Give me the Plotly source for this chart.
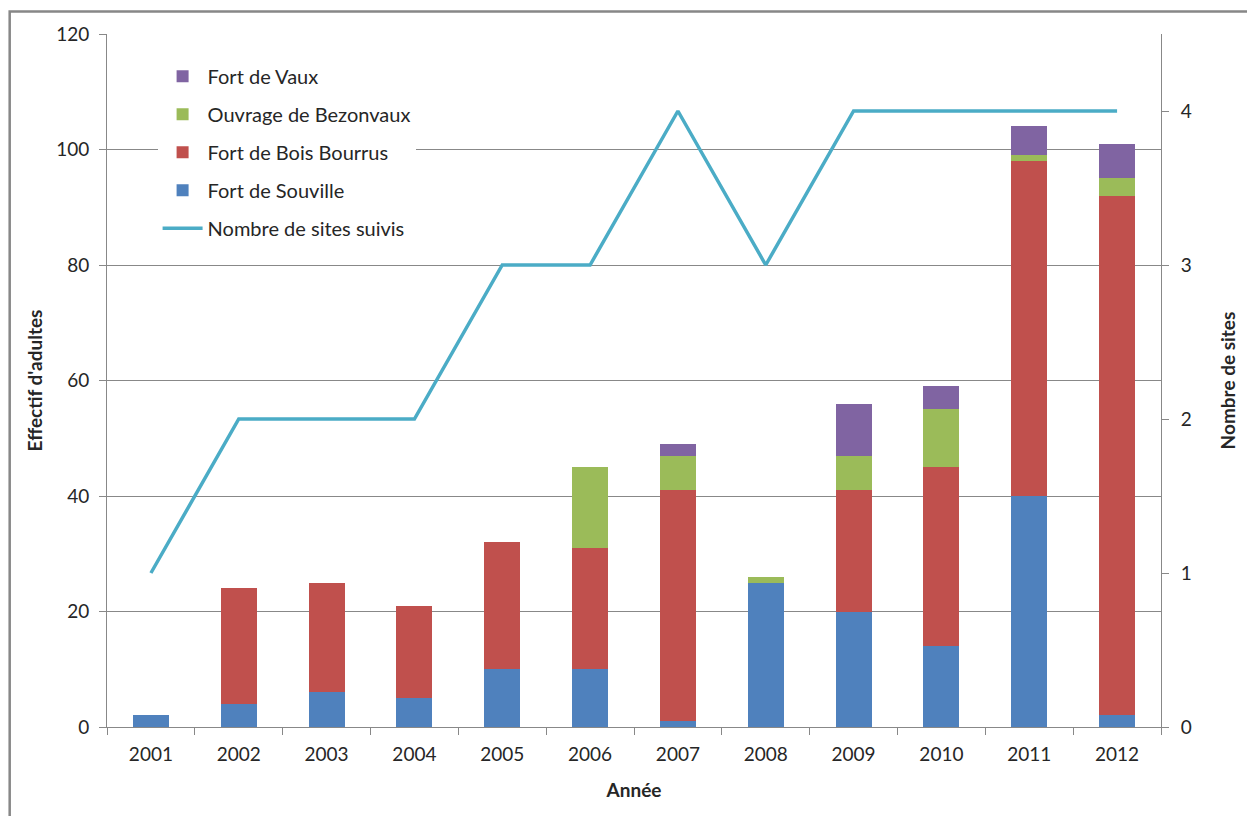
import plotly.graph_objects as go

years = ["2001", "2002", "2003", "2004", "2005", "2006", "2007", "2008", "2009", "2010", "2011", "2012"]
souville = [2, 4, 6, 5, 10, 10, 1, 25, 20, 14, 40, 2]
bois_bourrus = [0, 20, 19, 16, 22, 21, 40, 0, 21, 31, 58, 90]
bezonvaux = [0, 0, 0, 0, 0, 14, 6, 1, 6, 10, 1, 3]
vaux = [0, 0, 0, 0, 0, 0, 2, 0, 9, 4, 5, 6]
nb_sites = [1, 2, 2, 2, 3, 3, 4, 3, 4, 4, 4, 4]

FONT = "Lato"
GRID = "#888888"

fig = go.Figure()
series = [
    ("Fort de Souville", souville, "#4F81BD", 4),
    ("Fort de Bois Bourrus", bois_bourrus, "#C0504D", 3),
    ("Ouvrage de Bezonvaux", bezonvaux, "#9BBB59", 2),
    ("Fort de Vaux", vaux, "#8064A2", 1),
]
for name, vals, col, rank in series:
    fig.add_trace(go.Bar(x=years, y=vals, name=name, marker_color=col,
                         marker_line_width=0, legendrank=rank, legendgroup=name))
fig.add_trace(go.Scatter(x=years, y=nb_sites, name="Nombre de sites suivis", mode="lines",
                         line=dict(color="#4BACC6", width=3.5), yaxis="y2",
                         legendrank=5, legendgroup="sites"))

fig.update_layout(
    width=1247, height=816,
    margin=dict(l=107, r=84, t=34, b=89),
    paper_bgcolor="white", plot_bgcolor="white",
    barmode="stack", bargap=0.59,
    font=dict(family=FONT, size=19, color="#262626"),
    showlegend=True,
    legend=dict(x=0.048, y=0.967, xanchor="left", yanchor="top", bgcolor="white",
                font=dict(size=20), tracegroupgap=9, traceorder="grouped",
                itemwidth=40),
    xaxis=dict(type="category", showline=True, linecolor=GRID, linewidth=1,
               ticks="outside", tickson="boundaries", ticklen=7, tickcolor=GRID,
               showgrid=False, ticklabelstandoff=10,
               title=dict(text="<b>Année</b>", font=dict(size=19), standoff=19)),
    yaxis=dict(range=[0, 120], dtick=20, showline=True, linecolor=GRID, linewidth=1,
               ticks="outside", ticklen=7, tickcolor=GRID, showgrid=True,
               gridcolor=GRID, gridwidth=1, zeroline=False, ticklabelstandoff=6,
               title=dict(text="<b>Effectif d'adultes</b>", font=dict(size=19), standoff=8)),
    yaxis2=dict(range=[0, 4.5], tickvals=[0, 1, 2, 3, 4], overlaying="y", side="right",
                showline=True, linecolor=GRID, linewidth=1, ticks="outside", ticklen=7,
                tickcolor=GRID, showgrid=False, zeroline=False, ticklabelstandoff=8,
                title=dict(text="<b>Nombre de sites</b>", font=dict(size=19), standoff=30)),
    shapes=[dict(type="rect", xref="paper", yref="paper",
                 x0=(9.5 - 107) / 1056, x1=1.3, y0=-0.3, y1=(727 - 11.5) / 693,
                 line=dict(color="#878787", width=2.5), fillcolor="rgba(0,0,0,0)",
                 layer="below")],
)

fig.write_html("out.html")
